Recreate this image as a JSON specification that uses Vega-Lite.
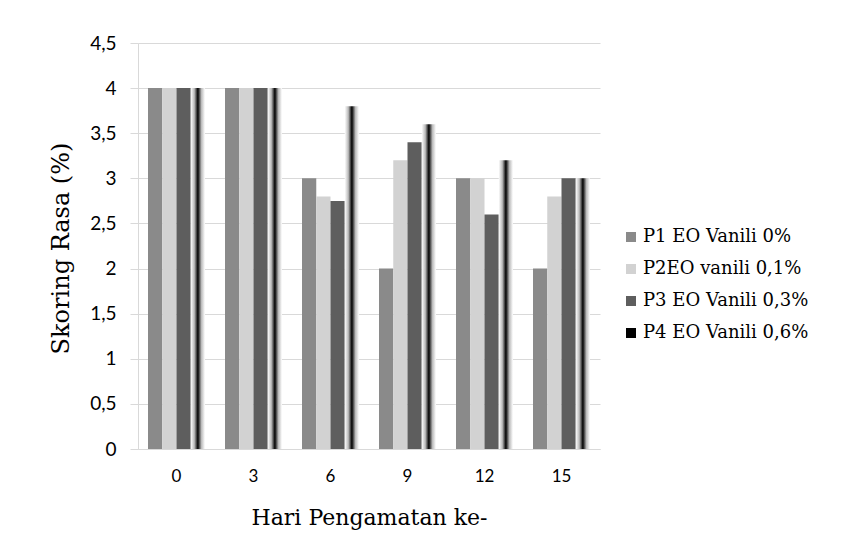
{
  "$schema": "https://vega.github.io/schema/vega-lite/v6.json",
  "width": 462,
  "height": 406,
  "autosize": "none",
  "padding": {"left": 138, "top": 43, "right": 261, "bottom": 105},
  "background": "white",
  "data": {
    "values": [
      {"hari": 0, "perlakuan": "P1 EO Vanili 0%", "skor": 4.0},
      {"hari": 0, "perlakuan": "P2EO vanili 0,1%", "skor": 4.0},
      {"hari": 0, "perlakuan": "P3 EO Vanili 0,3%", "skor": 4.0},
      {"hari": 0, "perlakuan": "P4 EO Vanili 0,6%", "skor": 4.0},
      {"hari": 3, "perlakuan": "P1 EO Vanili 0%", "skor": 4.0},
      {"hari": 3, "perlakuan": "P2EO vanili 0,1%", "skor": 4.0},
      {"hari": 3, "perlakuan": "P3 EO Vanili 0,3%", "skor": 4.0},
      {"hari": 3, "perlakuan": "P4 EO Vanili 0,6%", "skor": 4.0},
      {"hari": 6, "perlakuan": "P1 EO Vanili 0%", "skor": 3.0},
      {"hari": 6, "perlakuan": "P2EO vanili 0,1%", "skor": 2.8},
      {"hari": 6, "perlakuan": "P3 EO Vanili 0,3%", "skor": 2.75},
      {"hari": 6, "perlakuan": "P4 EO Vanili 0,6%", "skor": 3.8},
      {"hari": 9, "perlakuan": "P1 EO Vanili 0%", "skor": 2.0},
      {"hari": 9, "perlakuan": "P2EO vanili 0,1%", "skor": 3.2},
      {"hari": 9, "perlakuan": "P3 EO Vanili 0,3%", "skor": 3.4},
      {"hari": 9, "perlakuan": "P4 EO Vanili 0,6%", "skor": 3.6},
      {"hari": 12, "perlakuan": "P1 EO Vanili 0%", "skor": 3.0},
      {"hari": 12, "perlakuan": "P2EO vanili 0,1%", "skor": 3.0},
      {"hari": 12, "perlakuan": "P3 EO Vanili 0,3%", "skor": 2.6},
      {"hari": 12, "perlakuan": "P4 EO Vanili 0,6%", "skor": 3.2},
      {"hari": 15, "perlakuan": "P1 EO Vanili 0%", "skor": 2.0},
      {"hari": 15, "perlakuan": "P2EO vanili 0,1%", "skor": 2.8},
      {"hari": 15, "perlakuan": "P3 EO Vanili 0,3%", "skor": 3.0},
      {"hari": 15, "perlakuan": "P4 EO Vanili 0,6%", "skor": 3.0}
    ]
  },
  "mark": {"type": "bar"},
  "encoding": {
    "x": {
      "field": "hari",
      "type": "ordinal",
      "sort": [0, 3, 6, 9, 12, 15],
      "scale": {"paddingInner": 0.26, "paddingOuter": 0.13},
      "axis": {
        "title": "Hari Pengamatan ke-",
        "labelAngle": 0,
        "ticks": false,
        "grid": false,
        "labelPadding": 19,
        "labelFont": "Lato",
        "labelFontSize": 17,
        "labelColor": "#000000",
        "domainColor": "#d9d9d9",
        "titleFont": "DejaVu Serif",
        "titleFontSize": 22,
        "titleFontWeight": "normal",
        "titleColor": "#000000",
        "titleY": 68,
        "titleBaseline": "middle"
      }
    },
    "xOffset": {
      "field": "perlakuan",
      "type": "nominal",
      "sort": ["P1 EO Vanili 0%", "P2EO vanili 0,1%", "P3 EO Vanili 0,3%", "P4 EO Vanili 0,6%"],
      "scale": {"paddingInner": 0, "paddingOuter": 0}
    },
    "y": {
      "field": "skor",
      "type": "quantitative",
      "scale": {"domain": [0, 4.5], "nice": false},
      "axis": {
        "title": "Skoring Rasa (%)",
        "values": [0, 0.5, 1, 1.5, 2, 2.5, 3, 3.5, 4, 4.5],
        "labelExpr": "replace(format(datum.value, '.1~f'), '.', ',')",
        "labelFont": "Lato",
        "labelFontSize": 19,
        "labelColor": "#000000",
        "labelPadding": 14,
        "tickColor": "#d9d9d9",
        "tickSize": 8,
        "domainColor": "#d9d9d9",
        "grid": true,
        "gridColor": "#d9d9d9",
        "titleFont": "DejaVu Serif",
        "titleFontSize": 24,
        "titleFontWeight": "normal",
        "titleColor": "#000000",
        "titleX": -77,
        "titleY": 205,
        "titleAlign": "center",
        "titleBaseline": "middle"
      }
    },
    "fill": {
      "condition": {
        "test": "datum.perlakuan === 'P4 EO Vanili 0,6%'",
        "value": {"gradient": "linear", "x1": 0, "y1": 0, "x2": 1, "y2": 0, "stops": [
          {"offset": 0, "color": "#ffffff"},
          {"offset": 0.25, "color": "#bbbbbb"},
          {"offset": 0.5, "color": "#000000"},
          {"offset": 0.75, "color": "#bbbbbb"},
          {"offset": 1, "color": "#ffffff"}
        ]}
      },
      "field": "perlakuan",
      "type": "nominal",
      "scale": {
        "domain": ["P1 EO Vanili 0%", "P2EO vanili 0,1%", "P3 EO Vanili 0,3%", "P4 EO Vanili 0,6%"],
        "range": ["#8a8a8a", "#d2d2d2", "#5e5e5e", "#000000"]
      },
      "legend": {
        "title": null,
        "orient": "none",
        "legendX": 484,
        "legendY": 185,
        "symbolType": "square",
        "symbolSize": 100,
        "symbolStrokeWidth": 0,
        "labelFont": "DejaVu Serif",
        "labelFontSize": 18,
        "labelColor": "#000000",
        "labelOffset": 3,
        "rowPadding": 14,
        "labelLimit": 300
      }
    }
  },
  "config": {
    "view": {"stroke": null}
  }
}
